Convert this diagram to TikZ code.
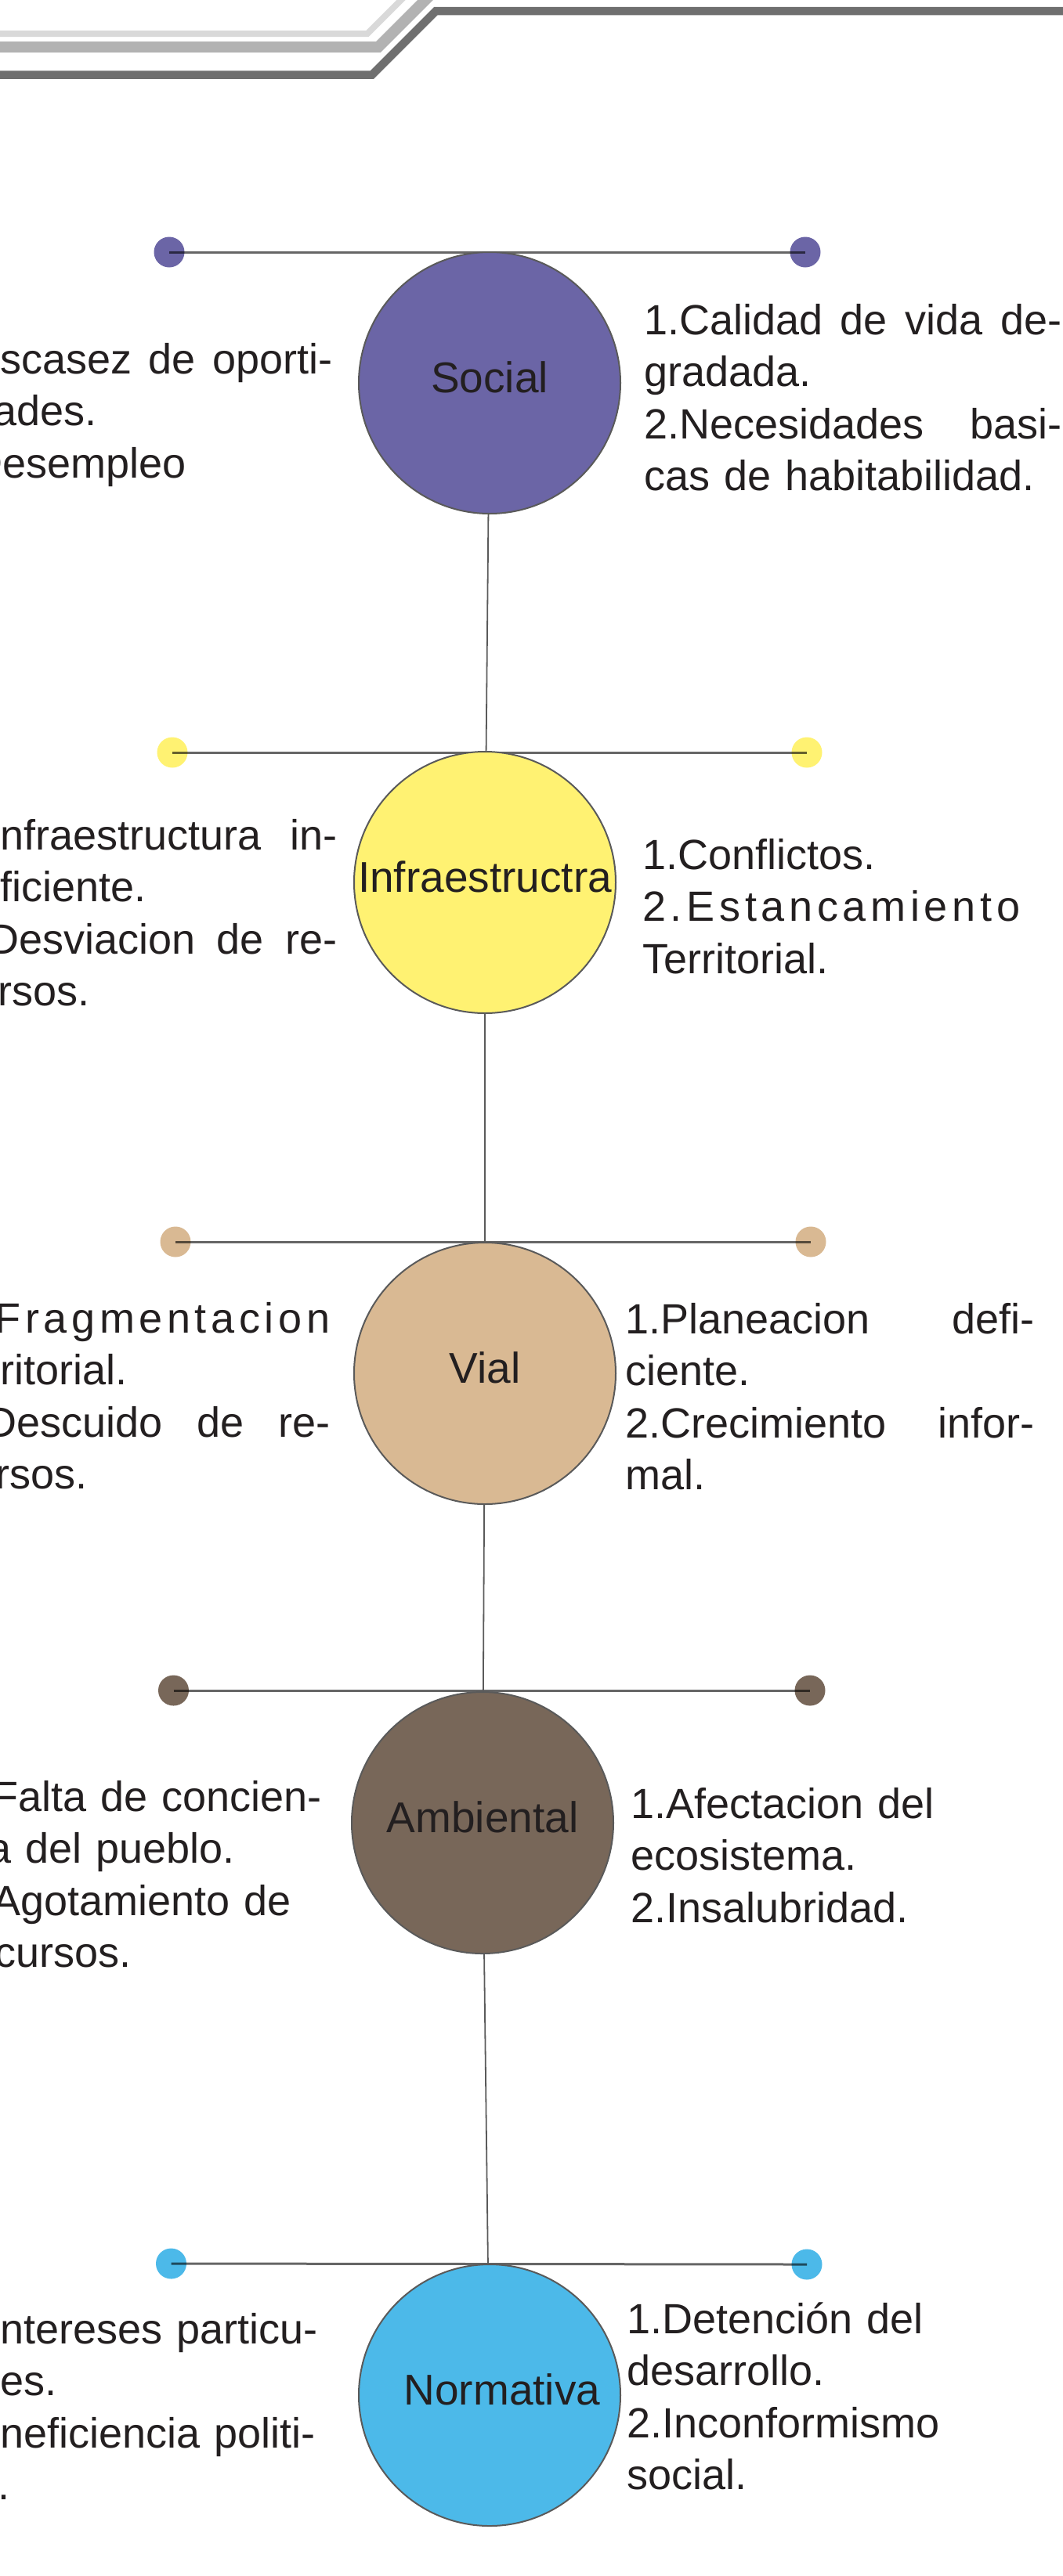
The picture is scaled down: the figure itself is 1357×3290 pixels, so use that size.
\documentclass[tikz,border=0pt]{standalone}
\usepackage{fontspec}
\setmainfont{Liberation Sans}
\newcommand{\blocktext}{\fontsize{54}{66.5}\selectfont}
\newcommand{\hubtext}{\fontsize{55}{66}\selectfont}
\newcommand{\spread}[1]{\makebox[\linewidth][s]{\spaceskip=.3333em plus 1fil\relax #1}}
\definecolor{ink}{HTML}{231F20}
\definecolor{rimgray}{HTML}{5A5A5A}
\definecolor{stripelight}{HTML}{D9D9D9}
\definecolor{stripemid}{HTML}{B2B2B2}
\definecolor{stripedark}{HTML}{6F6F6F}
\definecolor{socialcol}{HTML}{6B65A6}
\definecolor{infracol}{HTML}{FFF272}
\definecolor{vialcol}{HTML}{D9B993}
\definecolor{ambcol}{HTML}{786759}
\definecolor{normcol}{HTML}{4CB9E9}
\begin{document}
\begin{tikzpicture}[x=1pt, y=-1pt]
  \tikzset{
    hub/.style={circle, draw=rimgray, line width=2pt, minimum size=334pt, inner sep=0pt,
      text=ink, font=\hubtext, text height=32pt, text depth=8pt},
    dot/.style={circle, minimum size=39pt, inner sep=0pt},
    bar/.style={draw=black, draw opacity=0.6, line width=3pt},
    link/.style={draw=rimgray, line width=1.8pt},
    block/.style={anchor=base west, inner sep=0pt, text width=#1, align=left,
      text=ink, font=\blocktext},
    stripe/.style={line width=#1, line join=miter}
  }
  \useasboundingbox (0,0) rectangle (1357,3290);
  \clip (0,0) rectangle (1357,3290);

  % Header stripes
  \draw[stripe=8pt, draw=stripelight] (-5,43) -- (469,43) -- (517,-5);
  \draw[stripe=14pt, draw=stripemid] (-5,60) -- (483,60) -- (548,-5);
  \draw[stripe=10.5pt, draw=stripedark] (-5,95.5) -- (475,95.5) -- (556.5,14) -- (1362,14);

  % Social
  \node[dot, fill=socialcol] (socialA) at (216,322) {};
  \node[dot, fill=socialcol] (socialB) at (1028,322) {};
  \draw[bar] (socialA.center) -- (socialB.center);
  \node[hub, fill=socialcol] (social) at (625,489) {Social};
  \node[block=505pt] (socialL) at (-81,477)
    {\spread{1.Escasez de oporti-}\\ nidades.\\ 2.Desempleo};
  \node[block=533pt] (socialR) at (822,427)
    {\spread{1.Calidad de vida de-}\\ gradada.\\ \spread{2.Necesidades basi-}\\ cas de habitabilidad.};

  % Infraestructura
  \node[dot, fill=infracol] (infraA) at (220,961) {};
  \node[dot, fill=infracol] (infraB) at (1030,961) {};
  \draw[bar] (infraA.center) -- (infraB.center);
  \node[hub, fill=infracol] (infra) at (619,1127) {Infraestructra};
  \node[block=490pt] (infraL) at (-60,1085)
    {\spread{1.Infraestructura in-}\\ deficiente.\\ \spread{2.Desviacion de re-}\\ cursos.};
  \node[block=482pt] (infraR) at (820,1110)
    {1.Conflictos.\\
     \spread{2\hfil.\hfil E\hfil s\hfil t\hfil a\hfil n\hfil c\hfil a\hfil m\hfil i\hfil e\hfil n\hfil t\hfil o}\\
     Territorial.};

  % Vial
  \node[dot, fill=vialcol] (vialA) at (224,1586) {};
  \node[dot, fill=vialcol] (vialB) at (1035,1586) {};
  \draw[bar] (vialA.center) -- (vialB.center);
  \node[hub, fill=vialcol] (vial) at (619,1754) {Vial};
  \node[block=484pt] (vialL) at (-63,1702)
    {\spread{1\hfil.\hfil F\hfil r\hfil a\hfil g\hfil m\hfil e\hfil n\hfil t\hfil a\hfil c\hfil i\hfil o\hfil n}\\
     territorial.\\ \spread{2.Descuido de re-}\\ cursos.};
  \node[block=522pt] (vialR) at (798,1703)
    {\spread{1.Planeacion defi-}\\ ciente.\\ \spread{2.Crecimiento infor-}\\ mal.};

  % Ambiental
  \node[dot, fill=ambcol] (ambA) at (221.5,2159) {};
  \node[dot, fill=ambcol] (ambB) at (1034,2159) {};
  \draw[bar] (ambA.center) -- (ambB.center);
  \node[hub, fill=ambcol] (amb) at (616,2328) {Ambiental};
  \node[block=462pt] (ambL) at (-55,2313)
    {\spread{1.Falta de concien-}\\ cia del pueblo.\\ 2.Agotamiento de\\ recursos.};
  \node[block=500pt] (ambR) at (805,2322)
    {1.Afectacion del\\ ecosistema.\\ 2.Insalubridad.};

  % Normativa
  \node[dot, fill=normcol] (normA) at (218.5,2891) {};
  \node[dot, fill=normcol] (normB) at (1030,2892) {};
  \draw[bar] (normA.center) -- (normB.center);
  \node[hub, fill=normcol] (norm) at (625,3059) {\hspace*{32pt}Normativa};
  \node[block=500pt] (normL) at (-60,2993)
    {1.Intereses particu-\\ lares.\\ 2.Ineficiencia politi-\\ ca.};
  \node[block=500pt] (normR) at (800,2980)
    {1.Detención del\\ desarrollo.\\ 2.Inconformismo\\ social.};

  % Vertical links
  \draw[link] (social) -- (infra);
  \draw[link] (infra) -- (vial);
  \draw[link] (vial) -- (amb);
  \draw[link] (amb) -- (norm);
\end{tikzpicture}
\end{document}
